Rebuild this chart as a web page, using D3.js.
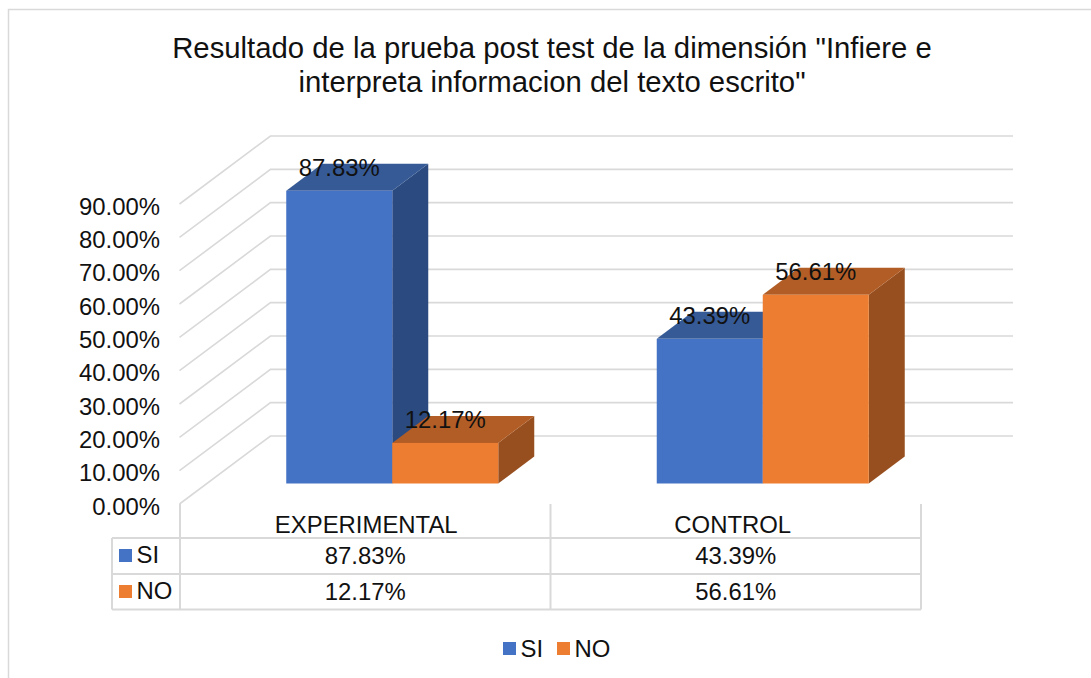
<!DOCTYPE html>
<html>
<head>
<meta charset="utf-8">
<script src="https://cdn.jsdelivr.net/npm/d3@7"></script>
<style>
html, body { margin: 0; padding: 0; background: white; }
text { font-family: "Liberation Sans", Arial, sans-serif; fill: #111; }
</style>
</head>
<body>
<div id="svgWrapper"></div>
<script>
var categories = ["EXPERIMENTAL", "CONTROL"];
var seriesNames = ["SI", "NO"];
var siValues = [87.83, 43.39];
var noValues = [12.17, 56.61];
var yTicks = [0, 10, 20, 30, 40, 50, 60, 70, 80, 90];
var titleLines = ['Resultado de la prueba post test de la dimensión "Infiere e', 'interpreta informacion del texto escrito"'];

var fullWidth = 1091, fullHeight = 678;
var gridColor = "#d9d9d9";
var labelSize = "23.9px";
var fmt = d3.format(".2f");

var front = {blue: "#4472c4", orange: "#ed7d31"};
var topFace = {blue: "#365a96", orange: "#b25d25"};
var sideFace = {blue: "#2b4a80", orange: "#984f1f"};
var colorKeys = ["blue", "orange"];

var svg = d3.select("#svgWrapper").append("svg")
	.attr("width", fullWidth)
	.attr("height", fullHeight)
	.style("display", "block");

// outer chart border, only top and left show in the picture
svg.append("path")
	.attr("d", "M8.5,678V9.5H1091")
	.attr("fill", "none")
	.attr("stroke", gridColor)
	.attr("stroke-width", 1.5);

// title
svg.selectAll("text.title")
	.data(titleLines)
	.enter().append("text")
	.attr("class", "title")
	.attr("x", 552)
	.attr("y", function(d, i) { return 58 + i * 34; })
	.attr("text-anchor", "middle")
	.style("font-size", "29.3px")
	.text(function(d) { return d; });

// y scale on the front plane of the floor
var yScale = d3.scaleLinear().domain([0, 90]).range([504, 204]);
var wallDx = 91, wallDy = 68; // perspective offset of the back wall
var barDepthX = 36, barDepthY = 27;
var barFloor = 483.5; // y of the bar fronts at value 0

// gridlines: side wall then back wall
svg.append("g").selectAll("path")
	.data(yTicks)
	.enter().append("path")
	.attr("fill", "none")
	.attr("stroke", gridColor)
	.attr("stroke-width", 1.6)
	.attr("d", function(d) {
		var y = yScale(d);
		return "M179.5," + y + "L" + (179.5 + wallDx) + "," + (y - wallDy) + "H1013";
	});

// y axis labels
var axisG = svg.append("g")
	.attr("transform", "translate(160,2.5)")
	.call(d3.axisLeft(yScale).tickValues(yTicks).tickSize(0).tickPadding(0)
		.tickFormat(function(d) { return fmt(d) + "%"; }));
axisG.select(".domain").remove();
axisG.selectAll("text").style("font-size", labelSize).style("font-family", null).attr("fill", null);

// bars
var x0 = d3.scaleBand().domain(categories).range([180, 921]);
var barWidth = 106;
var x1 = d3.scaleBand().domain(seriesNames).range([0, barWidth * 2]);
var barShift = (x0.bandwidth() - barWidth * 2) / 2 + 27;
var heightOf = function(v) { return yScale(0) - yScale(v); };

var barData = [];
categories.forEach(function(c, i) {
	barData.push({cat: c, s: "SI", v: siValues[i], k: "blue"});
	barData.push({cat: c, s: "NO", v: noValues[i], k: "orange"});
});

var bars = svg.append("g").selectAll("g")
	.data(barData)
	.enter().append("g")
	.attr("transform", function(d) {
		return "translate(" + (x0(d.cat) + barShift + x1(d.s)) + "," + barFloor + ")";
	});

bars.append("path")
	.attr("fill", function(d) { return sideFace[d.k]; })
	.attr("d", function(d) {
		var h = heightOf(d.v);
		return "M" + barWidth + ",0V" + (-h) + "l" + barDepthX + "," + (-barDepthY) + "V" + (-barDepthY) + "Z";
	});
bars.append("path")
	.attr("fill", function(d) { return topFace[d.k]; })
	.attr("d", function(d) {
		var h = heightOf(d.v);
		return "M0," + (-h) + "l" + barDepthX + "," + (-barDepthY) + "h" + barWidth + "l" + (-barDepthX) + "," + barDepthY + "Z";
	});
bars.append("rect")
	.attr("y", function(d) { return -heightOf(d.v); })
	.attr("width", barWidth)
	.attr("height", function(d) { return heightOf(d.v); })
	.attr("fill", function(d) { return front[d.k]; });

// data labels sit on top of all bars
svg.append("g").selectAll("text")
	.data(barData)
	.enter().append("text")
	.attr("x", function(d) { return x0(d.cat) + barShift + x1(d.s) + barWidth / 2; })
	.attr("y", function(d) { return barFloor - heightOf(d.v) - 15; })
	.attr("text-anchor", "middle")
	.style("font-size", labelSize)
	.text(function(d) { return fmt(d.v) + "%"; });

// data table
var rowY = [538, 574, 609.5];
var table = svg.append("g").attr("stroke", gridColor).attr("stroke-width", 2).attr("fill", "none");
table.append("path").attr("d", "M112,538V609.5");
categories.concat(["end"]).forEach(function(c) {
	var x = c === "end" ? x0.range()[1] : x0(c);
	table.append("path").attr("d", "M" + x + ",504V609.5");
});
rowY.forEach(function(y) {
	table.append("path").attr("d", "M112," + y + "H" + x0.range()[1]);
});

// CONTROL sits a little left of its column centre in the picture
svg.append("g").selectAll("text")
	.data(categories)
	.enter().append("text")
	.attr("x", function(d, i) { return x0(d) + x0.bandwidth() / 2 + (i === 1 ? -3 : 1); })
	.attr("y", 533)
	.attr("text-anchor", "middle")
	.style("font-size", labelSize)
	.text(function(d) { return d; });

[siValues, noValues].forEach(function(vals, r) {
	var rowG = svg.append("g");
	rowG.selectAll("text")
		.data(vals)
		.enter().append("text")
		.attr("x", function(d, i) { return x0(categories[i]) + x0.bandwidth() / 2; })
		.attr("y", 563.5 + r * 36)
		.attr("text-anchor", "middle")
		.style("font-size", labelSize)
		.text(function(d) { return fmt(d) + "%"; });
	rowG.append("rect")
		.attr("x", 119).attr("y", 549 + r * 36)
		.attr("width", 13).attr("height", 13)
		.attr("fill", front[colorKeys[r]]);
	rowG.append("text")
		.attr("x", 136.5).attr("y", 562.5 + r * 36)
		.style("font-size", labelSize)
		.text(seriesNames[r]);
});

// legend at bottom
var legendX = [503, 557];
seriesNames.forEach(function(s, i) {
	svg.append("rect")
		.attr("x", legendX[i]).attr("y", 642)
		.attr("width", 13).attr("height", 13)
		.attr("fill", front[colorKeys[i]]);
	svg.append("text")
		.attr("x", legendX[i] + 17.5).attr("y", 657)
		.style("font-size", labelSize)
		.text(s);
});
</script>
</body>
</html>
